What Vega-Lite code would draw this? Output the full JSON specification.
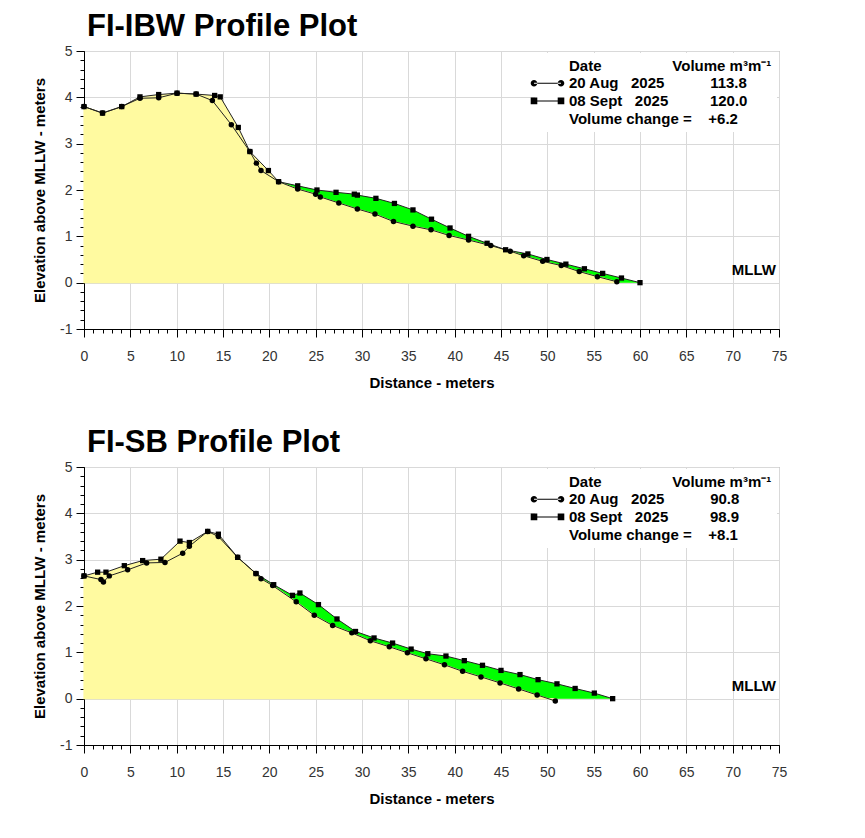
{
  "$schema": "https://vega.github.io/schema/vega-lite/v6.json",
  "padding": {"left": 32, "top": 10, "right": 5, "bottom": 5},
  "background": "white",
  "spacing": 35,
  "config": {
    "font": "Liberation Sans",
    "view": {"stroke": "#888888", "strokeWidth": 1},
    "title": {"font": "Liberation Sans", "fontSize": 31, "fontWeight": "bold", "color": "black", "anchor": "start", "frame": "group", "offset": 1, "dx": 3},
    "axis": {"labelFont": "Liberation Sans", "titleFont": "Liberation Sans", "labelFlush": false, "labelOverlap": false}
  },
  "datasets": {
    "ibw": [
      {"survey": "20 Aug 2025", "x": 0, "y": 3.80},
      {"survey": "20 Aug 2025", "x": 2.0, "y": 3.66},
      {"survey": "20 Aug 2025", "x": 4.07, "y": 3.80},
      {"survey": "20 Aug 2025", "x": 6.04, "y": 3.98},
      {"survey": "20 Aug 2025", "x": 8.06, "y": 3.99},
      {"survey": "20 Aug 2025", "x": 10.04, "y": 4.09},
      {"survey": "20 Aug 2025", "x": 12.1, "y": 4.07},
      {"survey": "20 Aug 2025", "x": 13.85, "y": 3.93},
      {"survey": "20 Aug 2025", "x": 15.9, "y": 3.41},
      {"survey": "20 Aug 2025", "x": 17.9, "y": 2.83},
      {"survey": "20 Aug 2025", "x": 18.6, "y": 2.58},
      {"survey": "20 Aug 2025", "x": 19.1, "y": 2.42},
      {"survey": "20 Aug 2025", "x": 21.0, "y": 2.18},
      {"survey": "20 Aug 2025", "x": 23.06, "y": 2.02},
      {"survey": "20 Aug 2025", "x": 25.0, "y": 1.91},
      {"survey": "20 Aug 2025", "x": 25.5, "y": 1.85},
      {"survey": "20 Aug 2025", "x": 27.5, "y": 1.72},
      {"survey": "20 Aug 2025", "x": 29.5, "y": 1.59},
      {"survey": "20 Aug 2025", "x": 31.4, "y": 1.48},
      {"survey": "20 Aug 2025", "x": 33.4, "y": 1.32},
      {"survey": "20 Aug 2025", "x": 35.5, "y": 1.22},
      {"survey": "20 Aug 2025", "x": 37.45, "y": 1.14},
      {"survey": "20 Aug 2025", "x": 39.4, "y": 1.02},
      {"survey": "20 Aug 2025", "x": 41.5, "y": 0.92},
      {"survey": "20 Aug 2025", "x": 43.9, "y": 0.80},
      {"survey": "20 Aug 2025", "x": 46.0, "y": 0.68},
      {"survey": "20 Aug 2025", "x": 47.45, "y": 0.58},
      {"survey": "20 Aug 2025", "x": 49.5, "y": 0.46},
      {"survey": "20 Aug 2025", "x": 51.5, "y": 0.37},
      {"survey": "20 Aug 2025", "x": 53.45, "y": 0.24},
      {"survey": "20 Aug 2025", "x": 55.4, "y": 0.13},
      {"survey": "20 Aug 2025", "x": 57.5, "y": 0.02},
      {"survey": "08 Sept 2025", "x": 0, "y": 3.80},
      {"survey": "08 Sept 2025", "x": 2.0, "y": 3.66},
      {"survey": "08 Sept 2025", "x": 4.07, "y": 3.80},
      {"survey": "08 Sept 2025", "x": 6.04, "y": 4.01},
      {"survey": "08 Sept 2025", "x": 8.06, "y": 4.06},
      {"survey": "08 Sept 2025", "x": 10.04, "y": 4.09},
      {"survey": "08 Sept 2025", "x": 12.1, "y": 4.07},
      {"survey": "08 Sept 2025", "x": 14.1, "y": 4.04},
      {"survey": "08 Sept 2025", "x": 14.7, "y": 4.01},
      {"survey": "08 Sept 2025", "x": 16.65, "y": 3.35},
      {"survey": "08 Sept 2025", "x": 17.9, "y": 2.83},
      {"survey": "08 Sept 2025", "x": 19.9, "y": 2.42},
      {"survey": "08 Sept 2025", "x": 21.0, "y": 2.18},
      {"survey": "08 Sept 2025", "x": 23.06, "y": 2.09},
      {"survey": "08 Sept 2025", "x": 25.14, "y": 2.00},
      {"survey": "08 Sept 2025", "x": 27.2, "y": 1.95},
      {"survey": "08 Sept 2025", "x": 29.17, "y": 1.91},
      {"survey": "08 Sept 2025", "x": 29.5, "y": 1.89},
      {"survey": "08 Sept 2025", "x": 31.5, "y": 1.82},
      {"survey": "08 Sept 2025", "x": 33.5, "y": 1.71},
      {"survey": "08 Sept 2025", "x": 35.5, "y": 1.57},
      {"survey": "08 Sept 2025", "x": 37.5, "y": 1.37},
      {"survey": "08 Sept 2025", "x": 39.5, "y": 1.18},
      {"survey": "08 Sept 2025", "x": 41.5, "y": 1.00},
      {"survey": "08 Sept 2025", "x": 43.5, "y": 0.85},
      {"survey": "08 Sept 2025", "x": 45.5, "y": 0.71},
      {"survey": "08 Sept 2025", "x": 47.9, "y": 0.62},
      {"survey": "08 Sept 2025", "x": 49.96, "y": 0.50},
      {"survey": "08 Sept 2025", "x": 52.0, "y": 0.40},
      {"survey": "08 Sept 2025", "x": 54.0, "y": 0.30},
      {"survey": "08 Sept 2025", "x": 55.97, "y": 0.20},
      {"survey": "08 Sept 2025", "x": 58.0, "y": 0.10},
      {"survey": "08 Sept 2025", "x": 60.0, "y": 0.0}
    ],
    "sb": [
      {"survey": "20 Aug 2025", "x": 0, "y": 2.65},
      {"survey": "20 Aug 2025", "x": 1.83, "y": 2.57},
      {"survey": "20 Aug 2025", "x": 2.1, "y": 2.52},
      {"survey": "20 Aug 2025", "x": 2.73, "y": 2.65},
      {"survey": "20 Aug 2025", "x": 4.71, "y": 2.78},
      {"survey": "20 Aug 2025", "x": 6.76, "y": 2.93},
      {"survey": "20 Aug 2025", "x": 8.74, "y": 2.94},
      {"survey": "20 Aug 2025", "x": 10.65, "y": 3.14},
      {"survey": "20 Aug 2025", "x": 11.37, "y": 3.29},
      {"survey": "20 Aug 2025", "x": 13.35, "y": 3.61},
      {"survey": "20 Aug 2025", "x": 14.5, "y": 3.50},
      {"survey": "20 Aug 2025", "x": 16.58, "y": 3.05},
      {"survey": "20 Aug 2025", "x": 18.56, "y": 2.70},
      {"survey": "20 Aug 2025", "x": 19.1, "y": 2.59},
      {"survey": "20 Aug 2025", "x": 20.36, "y": 2.44},
      {"survey": "20 Aug 2025", "x": 22.9, "y": 2.09},
      {"survey": "20 Aug 2025", "x": 24.85, "y": 1.80},
      {"survey": "20 Aug 2025", "x": 26.83, "y": 1.58},
      {"survey": "20 Aug 2025", "x": 28.9, "y": 1.42},
      {"survey": "20 Aug 2025", "x": 30.9, "y": 1.25},
      {"survey": "20 Aug 2025", "x": 32.95, "y": 1.12},
      {"survey": "20 Aug 2025", "x": 34.9, "y": 0.99},
      {"survey": "20 Aug 2025", "x": 36.9, "y": 0.86},
      {"survey": "20 Aug 2025", "x": 38.9, "y": 0.73},
      {"survey": "20 Aug 2025", "x": 40.86, "y": 0.59},
      {"survey": "20 Aug 2025", "x": 42.84, "y": 0.47},
      {"survey": "20 Aug 2025", "x": 44.9, "y": 0.34},
      {"survey": "20 Aug 2025", "x": 46.9, "y": 0.21},
      {"survey": "20 Aug 2025", "x": 48.9, "y": 0.08},
      {"survey": "20 Aug 2025", "x": 50.86, "y": -0.05},
      {"survey": "08 Sept 2025", "x": 0, "y": 2.65},
      {"survey": "08 Sept 2025", "x": 1.47, "y": 2.73},
      {"survey": "08 Sept 2025", "x": 2.37, "y": 2.73},
      {"survey": "08 Sept 2025", "x": 4.35, "y": 2.87},
      {"survey": "08 Sept 2025", "x": 6.33, "y": 2.98},
      {"survey": "08 Sept 2025", "x": 8.3, "y": 3.01},
      {"survey": "08 Sept 2025", "x": 10.36, "y": 3.40},
      {"survey": "08 Sept 2025", "x": 11.37, "y": 3.37},
      {"survey": "08 Sept 2025", "x": 13.35, "y": 3.61},
      {"survey": "08 Sept 2025", "x": 14.5, "y": 3.55},
      {"survey": "08 Sept 2025", "x": 16.58, "y": 3.05},
      {"survey": "08 Sept 2025", "x": 18.56, "y": 2.70},
      {"survey": "08 Sept 2025", "x": 20.47, "y": 2.46},
      {"survey": "08 Sept 2025", "x": 22.5, "y": 2.23},
      {"survey": "08 Sept 2025", "x": 23.3, "y": 2.28},
      {"survey": "08 Sept 2025", "x": 25.3, "y": 2.03},
      {"survey": "08 Sept 2025", "x": 27.3, "y": 1.72},
      {"survey": "08 Sept 2025", "x": 29.3, "y": 1.45},
      {"survey": "08 Sept 2025", "x": 31.3, "y": 1.31},
      {"survey": "08 Sept 2025", "x": 33.3, "y": 1.20},
      {"survey": "08 Sept 2025", "x": 35.3, "y": 1.07},
      {"survey": "08 Sept 2025", "x": 37.1, "y": 0.97},
      {"survey": "08 Sept 2025", "x": 39.06, "y": 0.92},
      {"survey": "08 Sept 2025", "x": 41.04, "y": 0.82},
      {"survey": "08 Sept 2025", "x": 43.0, "y": 0.72},
      {"survey": "08 Sept 2025", "x": 45.0, "y": 0.61},
      {"survey": "08 Sept 2025", "x": 47.05, "y": 0.52},
      {"survey": "08 Sept 2025", "x": 49.0, "y": 0.41},
      {"survey": "08 Sept 2025", "x": 51.04, "y": 0.32},
      {"survey": "08 Sept 2025", "x": 53.0, "y": 0.22},
      {"survey": "08 Sept 2025", "x": 55.07, "y": 0.12},
      {"survey": "08 Sept 2025", "x": 57.05, "y": 0.0}
    ]
  },
  "resolve": {"scale": {"shape": "independent"}, "legend": {"shape": "independent"}},
  "vconcat": [
    {
      "title": {"text": "FI-IBW Profile Plot"},
      "width": 695,
      "height": 278,
      "data": {"name": "ibw"},
      "resolve": {"axis": {"x": "independent", "y": "independent"}},
      "layer": [
        {
          "transform": [{"filter": "datum.survey === '08 Sept 2025'"}],
          "mark": {"type": "area", "color": "#FFFAA0", "opacity": 1},
          "encoding": {
            "x": {"field": "x", "type": "quantitative", "scale": {"domain": [0, 75], "nice": false},
              "axis": {"orient": "bottom", "values": [0,5,10,15,20,25,30,35,40,45,50,55,60,65,70,75], "labelExpr": "'' + datum.value", "title": "Distance - meters", "grid": true, "gridColor": "#d9d9d9", "tickSize": 8, "tickColor": "black", "domainColor": "black", "labelFontSize": 14, "labelColor": "#333333", "labelPadding": 12, "titleFontSize": 15, "titleFontWeight": "bold", "titleColor": "black", "titlePadding": 12}},
            "y": {"field": "y", "type": "quantitative", "scale": {"domain": [-1, 5], "nice": false},
              "axis": {"orient": "left", "values": [-1,0,1,2,3,4,5], "labelExpr": "'' + datum.value", "title": "Elevation above MLLW - meters", "grid": true, "gridColor": "#d9d9d9", "tickSize": 8, "tickColor": "black", "domainColor": "black", "labelFontSize": 14, "labelColor": "#333333", "labelPadding": 4, "titleFontSize": 15, "titleFontWeight": "bold", "titleColor": "black", "titlePadding": 12}}
          }
        },
        {
          "transform": [{"filter": "datum.survey === '08 Sept 2025' && datum.x >= 21"}],
          "mark": {"type": "area", "color": "#00FF00", "opacity": 1},
          "encoding": {
            "x": {"field": "x", "type": "quantitative", "scale": {"domain": [0, 75], "nice": false}, "axis": null},
            "y": {"field": "y", "type": "quantitative", "scale": {"domain": [-1, 5], "nice": false}, "axis": null}
          }
        },
        {
          "transform": [{"filter": "datum.survey === '20 Aug 2025'"}],
          "mark": {"type": "area", "fill": "#FFFAA0", "stroke": "#FFFAA0", "strokeWidth": 1.2, "opacity": 1},
          "encoding": {
            "x": {"field": "x", "type": "quantitative", "scale": {"domain": [0, 75], "nice": false}, "axis": null},
            "y": {"field": "y", "type": "quantitative", "scale": {"domain": [-1, 5], "nice": false}, "axis": null}
          }
        },
        {
          "mark": {"type": "line", "color": "#222222", "strokeWidth": 1},
          "encoding": {
            "x": {"field": "x", "type": "quantitative", "scale": {"domain": [0, 75], "nice": false}, "axis": null},
            "y": {"field": "y", "type": "quantitative", "scale": {"domain": [-1, 5], "nice": false}, "axis": null},
            "detail": {"field": "survey"}
          }
        },
        {
          "transform": [{"filter": "datum.survey === '20 Aug 2025'"}],
          "mark": {"type": "point", "shape": "circle", "filled": true, "color": "black", "opacity": 1, "size": 30},
          "encoding": {
            "x": {"field": "x", "type": "quantitative", "scale": {"domain": [0, 75], "nice": false}, "axis": null},
            "y": {"field": "y", "type": "quantitative", "scale": {"domain": [-1, 5], "nice": false}, "axis": null}
          }
        },
        {
          "transform": [{"filter": "datum.survey === '08 Sept 2025'"}],
          "mark": {"type": "point", "shape": "square", "filled": true, "color": "black", "opacity": 1, "size": 28},
          "encoding": {
            "x": {"field": "x", "type": "quantitative", "scale": {"domain": [0, 75], "nice": false}, "axis": null},
            "y": {"field": "y", "type": "quantitative", "scale": {"domain": [-1, 5], "nice": false}, "axis": null}
          }
        },
        {
          "data": {"values": [{}]},
          "mark": {"type": "text", "text": "MLLW", "align": "right", "baseline": "bottom", "dx": -3, "dy": -5, "fontSize": 15, "fontWeight": "bold", "font": "Liberation Sans", "color": "black"},
          "encoding": {
            "x": {"datum": 75, "type": "quantitative", "scale": {"domain": [0, 75], "nice": false}, "axis": null},
            "y": {"datum": 0, "type": "quantitative", "scale": {"domain": [-1, 5], "nice": false}, "axis": null}
          }
        },
        {
          "transform": [{"filter": "false"}],
          "mark": {"type": "point", "filled": true, "color": "black", "opacity": 1},
          "encoding": {
            "x": {"field": "x", "type": "quantitative", "scale": {"domain": [0, 75], "nice": false},
              "axis": {"orient": "bottom", "values": [0,1,2,3,4,5,6,7,8,9,10,11,12,13,14,15,16,17,18,19,20,21,22,23,24,25,26,27,28,29,30,31,32,33,34,35,36,37,38,39,40,41,42,43,44,45,46,47,48,49,50,51,52,53,54,55,56,57,58,59,60,61,62,63,64,65,66,67,68,69,70,71,72,73,74,75], "grid": false, "labels": false, "domain": false, "tickSize": 4, "tickColor": "black", "title": null}},
            "y": {"field": "y", "type": "quantitative", "scale": {"domain": [-1, 5], "nice": false},
              "axis": {"orient": "left", "values": [-1,-0.8,-0.6,-0.4,-0.2,0,0.2,0.4,0.6,0.8,1,1.2,1.4,1.6,1.8,2,2.2,2.4,2.6,2.8,3,3.2,3.4,3.6,3.8,4,4.2,4.4,4.6,4.8,5], "grid": false, "labels": false, "domain": false, "tickSize": 4, "tickColor": "black", "title": null}},
            "shape": {"field": "survey", "type": "nominal",
              "scale": {"domain": ["Date", "20 Aug 2025", "08 Sept 2025", "Volume change"],
                "range": ["M0,0", "M-2.7,-0.1H2.7V0.1H-2.7ZM-3.36,0A0.66,0.66,0,1,0,-2.04,0A0.66,0.66,0,1,0,-3.36,0ZM2.04,0A0.66,0.66,0,1,0,3.36,0A0.66,0.66,0,1,0,2.04,0Z", "M-2.7,-0.1H2.7V0.1H-2.7ZM-3.36,-0.66H-2.04V0.66H-3.36ZM2.04,-0.66H3.36V0.66H2.04Z", "M0,0"]},
              "legend": {"orient": "none", "legendX": 451, "legendY": 2, "title": null, "padding": 5, "fillColor": "white", "symbolSize": 100, "symbolStrokeWidth": 0, "symbolFillColor": "black", "symbolOpacity": 1, "labelFontSize": 15, "labelFontWeight": "bold", "labelColor": "black", "labelFont": "Liberation Sans", "labelLimit": 400, "labelOffset": 14, "rowPadding": 1.7,
                "labelExpr": "datum.value == 'Date' ? 'Date\u00a0\u00a0\u00a0\u00a0\u00a0\u00a0\u00a0\u00a0\u00a0\u00a0\u00a0\u00a0\u00a0\u00a0\u00a0\u00a0\u00a0Volume m\u00b3m\u207b\u00b9' : datum.value == '20 Aug 2025' ? '20 Aug\u00a0\u00a0\u00a02025\u00a0\u00a0\u00a0\u00a0\u00a0\u00a0\u00a0\u00a0\u00a0\u00a0\u00a0113.8' : datum.value == '08 Sept 2025' ? '08 Sept\u00a0\u00a0\u00a02025\u00a0\u00a0\u00a0\u00a0\u00a0\u00a0\u00a0\u00a0\u00a0\u00a0120.0' : 'Volume change =\u00a0\u00a0\u00a0\u00a0+6.2'"}}
          }
        }
      ]
    },
    {
      "title": {"text": "FI-SB Profile Plot"},
      "width": 695,
      "height": 278,
      "data": {"name": "sb"},
      "resolve": {"axis": {"x": "independent", "y": "independent"}},
      "layer": [
        {
          "transform": [{"filter": "datum.survey === '08 Sept 2025'"}],
          "mark": {"type": "area", "color": "#FFFAA0", "opacity": 1},
          "encoding": {
            "x": {"field": "x", "type": "quantitative", "scale": {"domain": [0, 75], "nice": false},
              "axis": {"orient": "bottom", "values": [0,5,10,15,20,25,30,35,40,45,50,55,60,65,70,75], "labelExpr": "'' + datum.value", "title": "Distance - meters", "grid": true, "gridColor": "#d9d9d9", "tickSize": 8, "tickColor": "black", "domainColor": "black", "labelFontSize": 14, "labelColor": "#333333", "labelPadding": 12, "titleFontSize": 15, "titleFontWeight": "bold", "titleColor": "black", "titlePadding": 12}},
            "y": {"field": "y", "type": "quantitative", "scale": {"domain": [-1, 5], "nice": false},
              "axis": {"orient": "left", "values": [-1,0,1,2,3,4,5], "labelExpr": "'' + datum.value", "title": "Elevation above MLLW - meters", "grid": true, "gridColor": "#d9d9d9", "tickSize": 8, "tickColor": "black", "domainColor": "black", "labelFontSize": 14, "labelColor": "#333333", "labelPadding": 4, "titleFontSize": 15, "titleFontWeight": "bold", "titleColor": "black", "titlePadding": 12}}
          }
        },
        {
          "transform": [{"filter": "datum.survey === '08 Sept 2025' && datum.x >= 18.5"}],
          "mark": {"type": "area", "color": "#00FF00", "opacity": 1},
          "encoding": {
            "x": {"field": "x", "type": "quantitative", "scale": {"domain": [0, 75], "nice": false}, "axis": null},
            "y": {"field": "y", "type": "quantitative", "scale": {"domain": [-1, 5], "nice": false}, "axis": null}
          }
        },
        {
          "transform": [{"filter": "datum.survey === '20 Aug 2025'"}],
          "mark": {"type": "area", "fill": "#FFFAA0", "stroke": "#FFFAA0", "strokeWidth": 1.2, "opacity": 1},
          "encoding": {
            "x": {"field": "x", "type": "quantitative", "scale": {"domain": [0, 75], "nice": false}, "axis": null},
            "y": {"field": "y", "type": "quantitative", "scale": {"domain": [-1, 5], "nice": false}, "axis": null}
          }
        },
        {
          "mark": {"type": "line", "color": "#222222", "strokeWidth": 1},
          "encoding": {
            "x": {"field": "x", "type": "quantitative", "scale": {"domain": [0, 75], "nice": false}, "axis": null},
            "y": {"field": "y", "type": "quantitative", "scale": {"domain": [-1, 5], "nice": false}, "axis": null},
            "detail": {"field": "survey"}
          }
        },
        {
          "transform": [{"filter": "datum.survey === '20 Aug 2025'"}],
          "mark": {"type": "point", "shape": "circle", "filled": true, "color": "black", "opacity": 1, "size": 30},
          "encoding": {
            "x": {"field": "x", "type": "quantitative", "scale": {"domain": [0, 75], "nice": false}, "axis": null},
            "y": {"field": "y", "type": "quantitative", "scale": {"domain": [-1, 5], "nice": false}, "axis": null}
          }
        },
        {
          "transform": [{"filter": "datum.survey === '08 Sept 2025'"}],
          "mark": {"type": "point", "shape": "square", "filled": true, "color": "black", "opacity": 1, "size": 28},
          "encoding": {
            "x": {"field": "x", "type": "quantitative", "scale": {"domain": [0, 75], "nice": false}, "axis": null},
            "y": {"field": "y", "type": "quantitative", "scale": {"domain": [-1, 5], "nice": false}, "axis": null}
          }
        },
        {
          "data": {"values": [{}]},
          "mark": {"type": "text", "text": "MLLW", "align": "right", "baseline": "bottom", "dx": -3, "dy": -5, "fontSize": 15, "fontWeight": "bold", "font": "Liberation Sans", "color": "black"},
          "encoding": {
            "x": {"datum": 75, "type": "quantitative", "scale": {"domain": [0, 75], "nice": false}, "axis": null},
            "y": {"datum": 0, "type": "quantitative", "scale": {"domain": [-1, 5], "nice": false}, "axis": null}
          }
        },
        {
          "transform": [{"filter": "false"}],
          "mark": {"type": "point", "filled": true, "color": "black", "opacity": 1},
          "encoding": {
            "x": {"field": "x", "type": "quantitative", "scale": {"domain": [0, 75], "nice": false},
              "axis": {"orient": "bottom", "values": [0,1,2,3,4,5,6,7,8,9,10,11,12,13,14,15,16,17,18,19,20,21,22,23,24,25,26,27,28,29,30,31,32,33,34,35,36,37,38,39,40,41,42,43,44,45,46,47,48,49,50,51,52,53,54,55,56,57,58,59,60,61,62,63,64,65,66,67,68,69,70,71,72,73,74,75], "grid": false, "labels": false, "domain": false, "tickSize": 4, "tickColor": "black", "title": null}},
            "y": {"field": "y", "type": "quantitative", "scale": {"domain": [-1, 5], "nice": false},
              "axis": {"orient": "left", "values": [-1,-0.8,-0.6,-0.4,-0.2,0,0.2,0.4,0.6,0.8,1,1.2,1.4,1.6,1.8,2,2.2,2.4,2.6,2.8,3,3.2,3.4,3.6,3.8,4,4.2,4.4,4.6,4.8,5], "grid": false, "labels": false, "domain": false, "tickSize": 4, "tickColor": "black", "title": null}},
            "shape": {"field": "survey", "type": "nominal",
              "scale": {"domain": ["Date", "20 Aug 2025", "08 Sept 2025", "Volume change"],
                "range": ["M0,0", "M-2.7,-0.1H2.7V0.1H-2.7ZM-3.36,0A0.66,0.66,0,1,0,-2.04,0A0.66,0.66,0,1,0,-3.36,0ZM2.04,0A0.66,0.66,0,1,0,3.36,0A0.66,0.66,0,1,0,2.04,0Z", "M-2.7,-0.1H2.7V0.1H-2.7ZM-3.36,-0.66H-2.04V0.66H-3.36ZM2.04,-0.66H3.36V0.66H2.04Z", "M0,0"]},
              "legend": {"orient": "none", "legendX": 451, "legendY": 2, "title": null, "padding": 5, "fillColor": "white", "symbolSize": 100, "symbolStrokeWidth": 0, "symbolFillColor": "black", "symbolOpacity": 1, "labelFontSize": 15, "labelFontWeight": "bold", "labelColor": "black", "labelFont": "Liberation Sans", "labelLimit": 400, "labelOffset": 14, "rowPadding": 1.7,
                "labelExpr": "datum.value == 'Date' ? 'Date\u00a0\u00a0\u00a0\u00a0\u00a0\u00a0\u00a0\u00a0\u00a0\u00a0\u00a0\u00a0\u00a0\u00a0\u00a0\u00a0\u00a0Volume m\u00b3m\u207b\u00b9' : datum.value == '20 Aug 2025' ? '20 Aug\u00a0\u00a0\u00a02025\u00a0\u00a0\u00a0\u00a0\u00a0\u00a0\u00a0\u00a0\u00a0\u00a0\u00a090.8' : datum.value == '08 Sept 2025' ? '08 Sept\u00a0\u00a0\u00a02025\u00a0\u00a0\u00a0\u00a0\u00a0\u00a0\u00a0\u00a0\u00a0\u00a098.9' : 'Volume change =\u00a0\u00a0\u00a0\u00a0+8.1'"}}
          }
        }
      ]
    }
  ]
}
